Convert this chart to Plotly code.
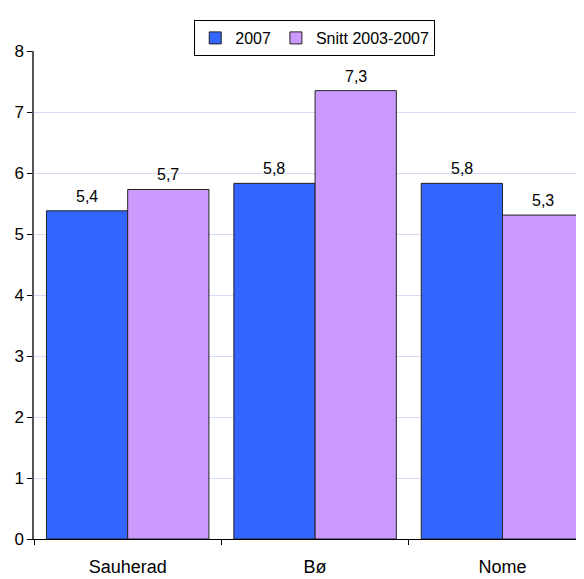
import plotly.graph_objects as go

categories = ["Sauherad", "Bø", "Nome"]
values_2007 = [5.38, 5.83, 5.83]
values_snitt = [5.73, 7.35, 5.31]
series_names = ["2007", "Snitt 2003-2007"]
y_ticks = [0, 1, 2, 3, 4, 5, 6, 7, 8]

W, H = 576, 571  # page body has an 8px margin

fig = go.Figure()
fig.add_trace(go.Bar(
    x=categories, y=values_2007, name=series_names[0],
    marker=dict(color="#3366FF", line=dict(color="#222222", width=1)),
))
fig.add_trace(go.Bar(
    x=categories, y=values_snitt, name=series_names[1],
    marker=dict(color="#CC99FF", line=dict(color="#222222", width=1)),
))

# data labels above bars
bar_offset_px = 40.6
for series, shift in ((values_2007, -bar_offset_px), (values_snitt, bar_offset_px)):
    for cat, val in zip(categories, series):
        fig.add_annotation(
            x=cat, y=val, text=f"{val:.1f}".replace(".", ","),
            showarrow=False, xshift=shift, yshift=4, yanchor="bottom",
            font=dict(size=16, color="black"),
        )

fig.update_layout(
    width=W, height=H,
    margin=dict(l=26, r=0, t=43, b=40, autoexpand=False),
    paper_bgcolor="white", plot_bgcolor="white",
    font=dict(family="Liberation Sans, Arial, sans-serif", size=16, color="black"),
    separators=",.",
    barmode="group", bargap=0.133, bargroupgap=0,
    showlegend=True,
    legend=dict(
        orientation="h", x=294 / W, xanchor="center", xref="paper",
        y=1 - 12 / H, yanchor="top", yref="container",
        bordercolor="black", borderwidth=1, bgcolor="white",
        font=dict(size=16), itemwidth=30, tracegroupgap=0,
    ),
    xaxis=dict(
        range=[-0.5, 2.435], showline=True, linecolor="black", linewidth=1,
        ticks="outside", tickson="boundaries", ticklen=5, tickcolor="black",
        showgrid=False, tickfont=dict(size=18), automargin=False,
        ticklabelstandoff=11,
    ),
    yaxis=dict(
        range=[0, 8], tickvals=y_ticks, showline=True, linecolor="#555555", linewidth=1.5,
        ticks="outside", ticklen=5, tickcolor="black",
        showgrid=True, gridcolor="#D8D8F8", gridwidth=1, zeroline=False,
        tickfont=dict(size=17), automargin=False,
    ),
)

fig.write_html("out.html")
